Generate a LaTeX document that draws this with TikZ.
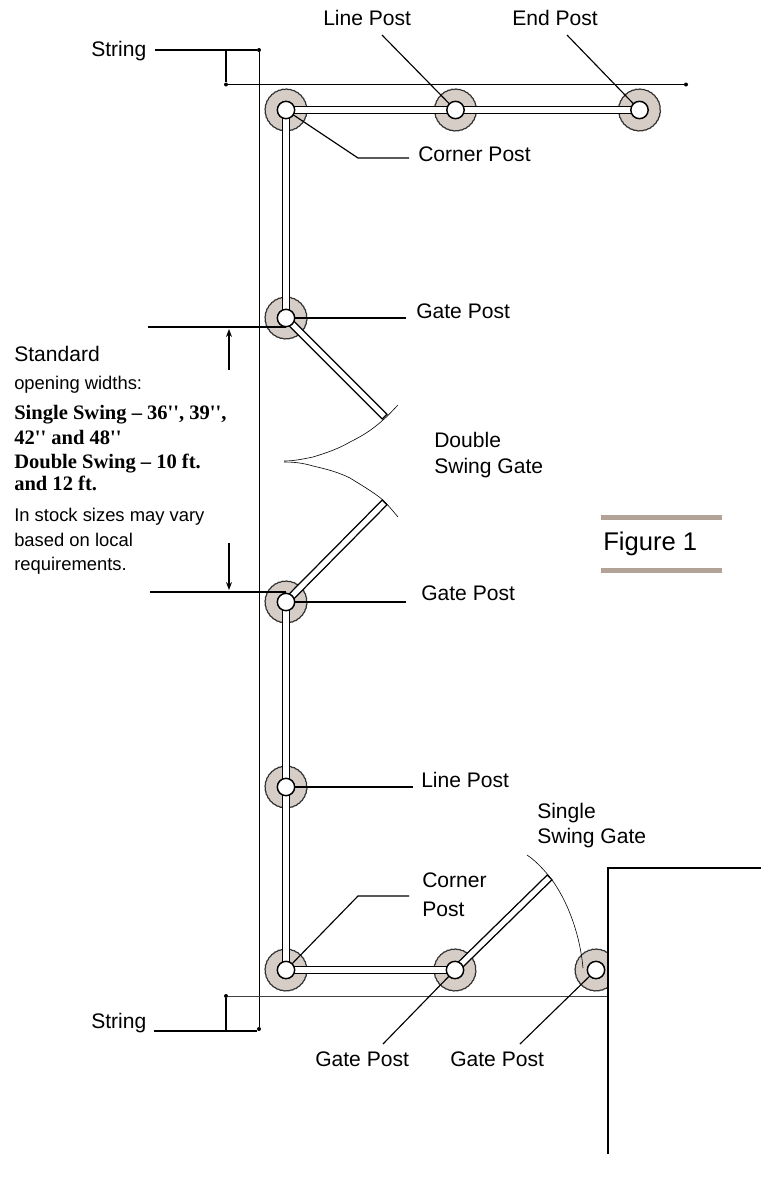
\documentclass[tikz,border=0pt]{standalone}
\usepackage{fontspec}
\setmainfont{Liberation Sans}
\newfontfamily\tnr{Liberation Serif}
\usetikzlibrary{decorations.pathmorphing,arrows.meta}
\definecolor{postfill}{RGB}{214,205,199}
\definecolor{figbar}{RGB}{178,162,152}
\tikzset{
 x=0.75pt,y=-0.75pt,
 post/.style={circle,inner sep=0pt,minimum size=31pt,fill=postfill,draw=black!80,line width=0.9pt,line join=round,decorate,decoration={bumps,segment length=6pt,amplitude=0.12pt}},
 hole/.style={circle,inner sep=0pt,minimum size=13pt,fill=white,draw=black,line width=1.1pt},
 rail/.style={draw=black,line width=6pt,line cap=butt},
 railin/.style={draw=white,line width=3.9pt,line cap=butt,shorten >=1pt},
 lead/.style={draw=black,line width=0.85pt},
 thin/.style={draw=black,line width=0.65pt},
 swing/.style={draw=black,line width=0.45pt},
 lab/.style={inner sep=0pt,anchor=base west,font=\fontsize{15.8}{18}\selectfont},
 small/.style={inner sep=0pt,anchor=base west,font=\fontsize{13.8}{16}\selectfont},
 bold/.style={inner sep=0pt,anchor=base west,font=\tnr\bfseries\fontsize{15.4}{18}\selectfont},
 dot/.style={circle,fill=black,inner sep=0pt,minimum size=3pt},
 arr/.style={draw=black,line width=0.85pt,-{Stealth[length=6pt,width=4.5pt]}},
}
\begin{document}
\begin{tikzpicture}
\useasboundingbox (0,0) rectangle (762,1183);
% posts
\node[post] (p1) at (286,110) {};
\node[post] (p2) at (455.5,110) {};
\node[post] (p3) at (639.5,110) {};
\node[post] (p4) at (286,318) {};
\node[post] (p5) at (286,602) {};
\node[post] (p6) at (286,787) {};
\node[post] (p7) at (286,970) {};
\node[post] (p8) at (455,970) {};
\begin{scope}
\clip (560,940) rectangle (608,1000);
\node[post] (p9) at (596,970) {};
\end{scope}
% gate ends
\coordinate (g1) at (385,417);
\coordinate (g2) at (385,502);
\coordinate (g3) at (550,877);
% rails
\foreach \a/\b in {p1/p3.center,p1/p4.center,p4/g1,p5/g2,p5/p7.center,p7/p8.center,p8/g3}{
 \path[rail] (\a.center) -- (\b);
 \path[railin] (\a.center) -- (\b);
}
% swing arcs
\path[swing] (398,405) .. controls (392,411) and (388,416) .. (383,420) .. controls (372,430) and (362,436) .. (350,442) .. controls (338,449) and (326,453) .. (313,457) .. controls (303,459) and (294,461) .. (284,461);
\path[swing] (398,517) .. controls (393,511) and (388,505) .. (383,500) .. controls (372,491) and (361,485) .. (350,478) .. controls (338,472) and (326,469) .. (313,466) .. controls (303,463) and (294,462) .. (284,462);
\path[swing] (527,855) .. controls (536,861) and (543,869) .. (549,876) .. controls (562,892) and (579,925) .. (583,968);
% strings
\node[dot] (d1) at (259,50) {};
\node[dot] (d2) at (226,84.5) {};
\node[dot] (d3) at (686,84.5) {};
\node[dot] (d4) at (226,996) {};
\node[dot] (d5) at (259,1029) {};
\node[lab] (str1) at (91,56) {String};
\node[lab] (str2) at (91,1028) {String};
\coordinate (s1) at (155,50);
\coordinate (s1b) at (226,50);
\coordinate (s2) at (154,1031);
\coordinate (s2e) at (257,1031);
\coordinate (s2b) at (226,1031);
\coordinate (s3) at (608,996);
\path[thin] (d1) -- (d5);
\path[thin] (d2) -- (d3);
\path[thin,draw=black!75] (d4) -- (s3);
\path[lead] (s1) -- (d1);
\path[lead] (s1b) -- (d2);
\path[lead] (s2) -- (s2e);
\path[lead] (s2b) -- (d4);
% wall
\coordinate (w1) at (761,868);
\coordinate (w2) at (608,868);
\coordinate (w3) at (608,1154);
\path[draw=black,line width=1pt] (w1) -- (w2) -- (w3);
% labels
\node[lab] (lp) at (323,25) {Line Post};
\node[lab] (ep) at (512,25) {End Post};
\node[lab] (cp) at (418,161) {Corner Post};
\node[lab] (gp1) at (416,318) {Gate Post};
\node[lab] (gp2) at (421,600) {Gate Post};
\node[lab] (lp2) at (421,787) {Line Post};
\node[lab] (dsg) at (434,447) {Double};
\node[lab] (dsg2) at (434,473) {Swing Gate};
\node[lab] (ssg) at (537,818) {Single};
\node[lab] (ssg2) at (537,843) {Swing Gate};
\node[lab] (cp2) at (422,887) {Corner};
\node[lab] (cp3) at (422,916) {Post};
\node[lab] (gp3) at (315,1066) {Gate Post};
\node[lab] (gp4) at (450,1066) {Gate Post};
\node[lab] (st) at (14,361) {Standard};
\node[small] (op) at (14,389) {opening widths:};
\node[bold] (b1) at (14,419) {Single Swing – 36'', 39'',};
\node[bold] (b2) at (14,444) {42'' and 48''};
\node[bold] (b3) at (14,468) {Double Swing – 10 ft.};
\node[bold] (b4) at (14,490) {and 12 ft.};
\node[small] (n1) at (14,521) {In stock sizes may vary};
\node[small] (n2) at (14,546) {based on local};
\node[small] (n3) at (14,570) {requirements.};
\node[inner sep=0pt,anchor=base west,font=\fontsize{19.2}{22}\selectfont] (fig) at (603,550) {Figure 1};
\coordinate (f1) at (601,517.5);\coordinate (f2) at (722,517.5);
\coordinate (f3) at (601,570.5);\coordinate (f4) at (722,570.5);
\path[draw=figbar,line width=3.6pt] (f1) -- (f2) (f3) -- (f4);
% leaders
\coordinate (a1) at (382,35);
\coordinate (a2) at (567,35);
\coordinate (a3) at (409,158);
\coordinate (a3b) at (358,158);
\coordinate (a4) at (406,318);
\coordinate (a5) at (406,602);
\coordinate (a6) at (413,787);
\coordinate (a7) at (409,896);
\coordinate (a7b) at (358,896);
\coordinate (a8) at (383,1044);
\coordinate (a9) at (520,1044);
\path[lead] (a1) -- (p2.center);
\path[lead] (a2) -- (p3.center);
\path[lead] (a3) -- (a3b) -- (p1.center);
\path[lead] (p4.center) -- (a4);
\path[lead] (p5.center) -- (a5);
\path[lead] (p6.center) -- (a6);
\path[lead] (a7) -- (a7b) -- (p7.center);
\path[lead] (a8) -- (p8.center);
\path[lead] (a9) -- (p9.center);
\coordinate (o1) at (148,327);\coordinate (o1e) at (286,327);
\coordinate (o2) at (150,592);\coordinate (o2e) at (286,592);
\coordinate (o3) at (229,370);\coordinate (o3e) at (229,329);
\coordinate (o4) at (229,543);\coordinate (o4e) at (229,590);
\path[lead] (o1) -- (o1e);
\path[lead] (o2) -- (o2e);
\path[arr] (o3) -- (o3e);
\path[arr] (o4) -- (o4e);
% holes
\foreach \n/\p in {h1/p1,h2/p2,h3/p3,h4/p4,h5/p5,h6/p6,h7/p7,h8/p8,h9/p9}{
 \node[hole] (\n) at (\p) {};
}
\end{tikzpicture}
\end{document}
